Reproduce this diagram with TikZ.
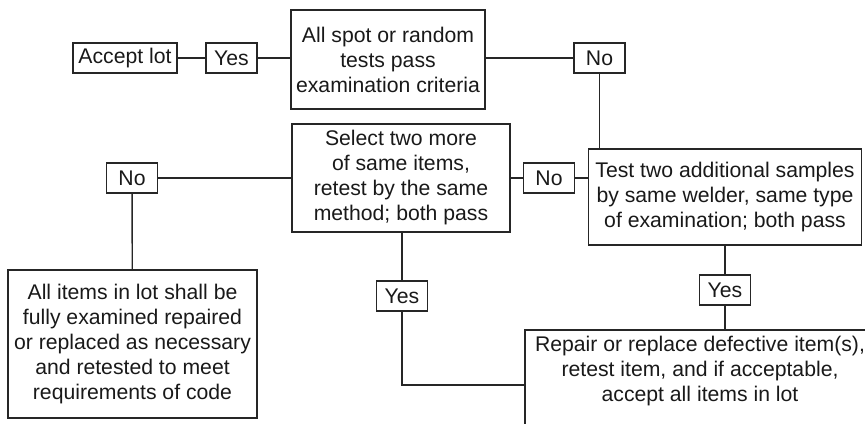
\documentclass[tikz,border=0pt]{standalone}
\usepackage{fontspec}
\setmainfont{Liberation Sans}
\usetikzlibrary{shapes}

\newcommand{\blockfont}{\fontsize{10.6}{12.5}\selectfont}
\tikzstyle{block} = [draw, rectangle, align=center, inner sep=0pt, font=\blockfont]
\tikzstyle{answer} = [block, minimum width=25.5pt, minimum height=15pt]

\begin{document}
\begin{tikzpicture}[x=0.5pt, y=-0.5pt, line width=0.7pt, draw=black!85, text=black!90]
\useasboundingbox (0,0) rectangle (865,423);
\clip (0,0) rectangle (865,423);

% top row
\node [block, name=accept, minimum width=52pt, minimum height=15pt] at (125,58) {Accept lot};
\node [answer, name=yes1] at (231.5,58) {Yes};
\node [block, name=spot, minimum width=97pt, minimum height=49.5pt] at (388,59.5)
  {All spot or random\\ tests pass\\ examination criteria};
\node [answer, name=no1] at (599.5,58) {No};

\draw [-] (accept) -- (yes1);
\draw [-] (yes1.east) -- (yes1.east -| spot.west);
\draw [-] (no1.west) -- (no1.west -| spot.east);

% retests
\node [block, name=select, minimum width=109pt, minimum height=54pt] at (401,178)
  {Select two more\\ of same items,\\ retest by the same\\ method; both pass};
\node [answer, name=no2] at (549,178) {No};
\node [block, name=test, minimum width=136.5pt, minimum height=48pt] at (725,197)
  {Test two additional samples\\ by same welder, same type\\ of examination; both pass};
\node [answer, name=no3] at (132,178) {No};

\draw [-] (no1.south) -- (no1.south |- test.north);
\draw [-] (select) -- (no2);
\draw [-] (no2.east) -- (no2.east -| test.west);
\draw [-] (no3) -- (select);

% outcomes (the repair box runs on past the page edge)
\node [block, name=items, minimum width=124.5pt, minimum height=74pt] at (132.5,344)
  {All items in lot shall be\\ fully examined repaired\\ or replaced as necessary\\ and retested to meet\\ requirements of code};
\node [answer, name=yes2] at (402,296) {Yes};
\node [answer, name=yes3] at (725,290) {Yes};
\node [block, name=repair, minimum width=175pt, minimum height=55pt] at (700,385)
  {Repair or replace defective item(s),\\ retest item, and if acceptable,\\ accept all items in lot\\ \strut};

\draw [-] (no3) -- (items);
\draw [-] (select.south -| yes2) -- (yes2);
\draw [-] (yes2) |- (repair.west);
\draw [-] (test.south -| yes3) -- (yes3);
\draw [-] (yes3) -- (yes3 |- repair.north);

\end{tikzpicture}
\end{document}
